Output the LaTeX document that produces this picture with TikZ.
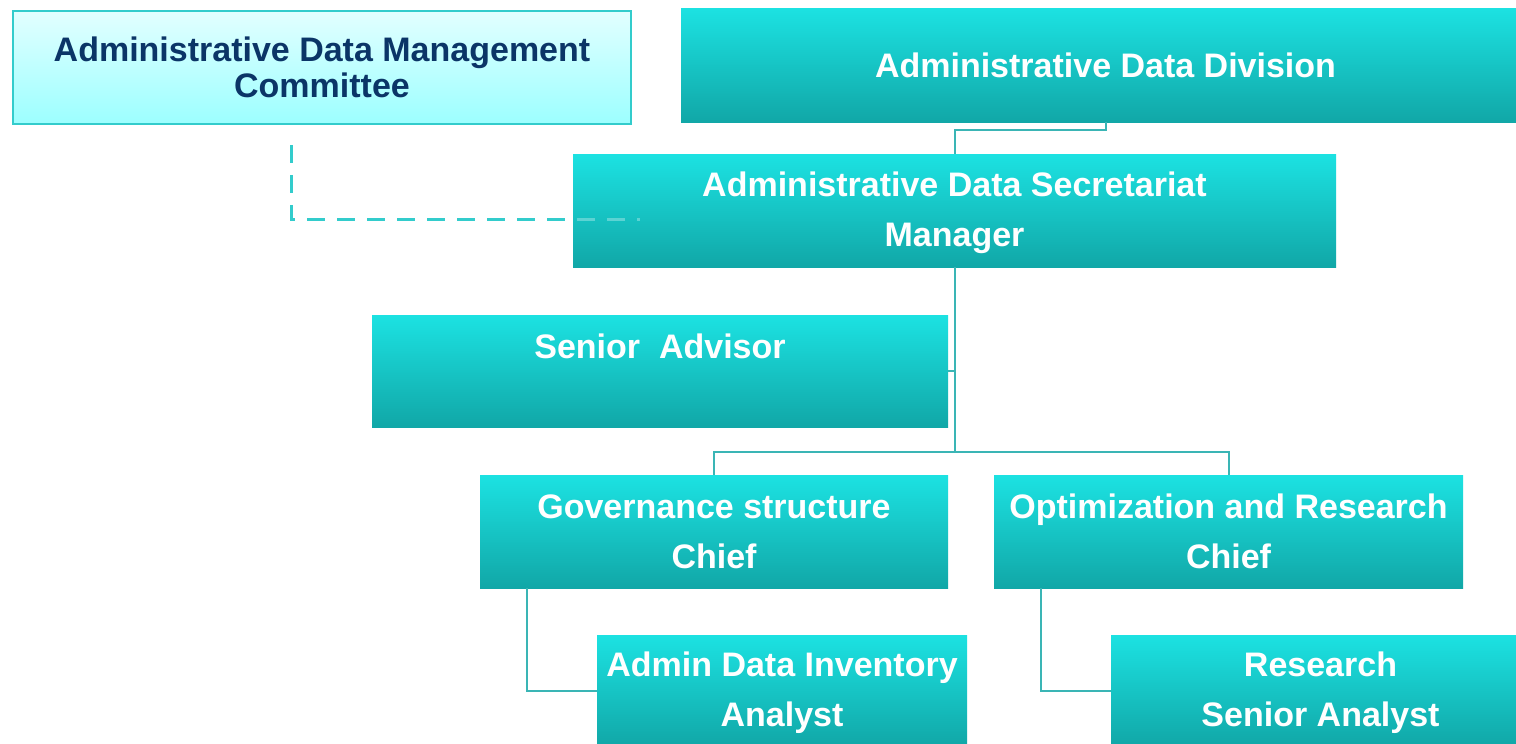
\documentclass[tikz,border=0pt]{standalone}
\usepackage{fontspec}
\setmainfont{Liberation Sans}
\usetikzlibrary{calc}
\definecolor{topc}{HTML}{1CE2E2}
\definecolor{midc}{HTML}{19CECE}
\definecolor{botc}{HTML}{11A7A7}
\definecolor{comtop}{HTML}{E2FFFF}
\definecolor{combot}{HTML}{9CFFFF}
\definecolor{comline}{HTML}{33CCCC}
\definecolor{navy}{HTML}{0B3567}
\definecolor{linec}{HTML}{3AB5B5}
\definecolor{dashc}{HTML}{33CCCC}
\newcommand{\upstrut}{\rule{0pt}{15pt}}
\begin{document}
\begin{tikzpicture}[x=0.5pt,y=-0.5pt,
  box/.style={rectangle, inner sep=0pt, top color=topc, middle color=midc, bottom color=botc,
    text=white, font=\fontsize{17}{25}\selectfont\bfseries, align=center},
  combox/.style={rectangle, inner sep=0pt, top color=comtop, bottom color=combot,
    draw=comline, line width=1pt, text=navy, font=\fontsize{17}{18}\selectfont\bfseries, align=center},
  conn/.style={draw=linec, line width=1pt},
  dashline/.style={draw=dashc, line width=1.5pt, dash pattern=on 9pt off 6pt},
]
\clip (0,0) rectangle (1516,744);
\fill[white] (0,0) rectangle (1516,744);

% dashed link (behind the secretariat box)
\coordinate (dstart) at (291,145);
\coordinate (dend) at (640,219);
\draw[dashline] (dstart) |- (dend);

% boxes
\node[combox, minimum width=309pt, minimum height=56.5pt] (com) at (322,67.5)
  {Administrative Data Management\\Committee};
\node[box, minimum width=424.5pt, minimum height=57pt] (div) at (1105.5,65)
  {Administrative Data Division};
\node[box, minimum width=381.5pt, minimum height=56.5pt] (sec) at (954.5,210.5)
  {\upstrut Administrative Data Secretariat\\Manager};
\node[box, minimum width=288pt, minimum height=56pt] (adv) at (660,371)
  {Senior\ \ Advisor\\\mbox{}};
\node[box, minimum width=234pt, minimum height=56.5pt] (gov) at (714,531.5)
  {Governance structure\\Chief};
\node[box, minimum width=234.5pt, minimum height=56.5pt] (opt) at (1228.5,531.5)
  {Optimization and Research\\Chief};
\node[box, minimum width=185pt, minimum height=55.5pt] (inv) at (782,690.5)
  {\upstrut Admin Data Inventory\\Analyst};
\node[box, minimum width=209.5pt, minimum height=55.5pt] (res) at (1320.5,690.5)
  {\upstrut Research\\Senior Analyst};

% faint part of the dashed link over the secretariat box
\begin{scope}
  \clip (573,154) rectangle (1336,267);
  \draw[dashline, draw=white, opacity=0.3] (dstart) |- (dend);
\end{scope}

% connectors
\draw[conn] (div.south) -- ++(0,8) -| (sec.north);
\draw[conn] (sec.south) |- (adv.east);
\draw[conn] (sec.south) -- ($(sec.south)+(0,185)$) -| (gov.north);
\draw[conn] ($(sec.south)+(0,185)$) -| (opt.north);
\draw[conn] ($(gov.south west)+(47,0)$) |- (inv.west);
\draw[conn] ($(opt.south west)+(47,0)$) |- (res.west);
\end{tikzpicture}
\end{document}
